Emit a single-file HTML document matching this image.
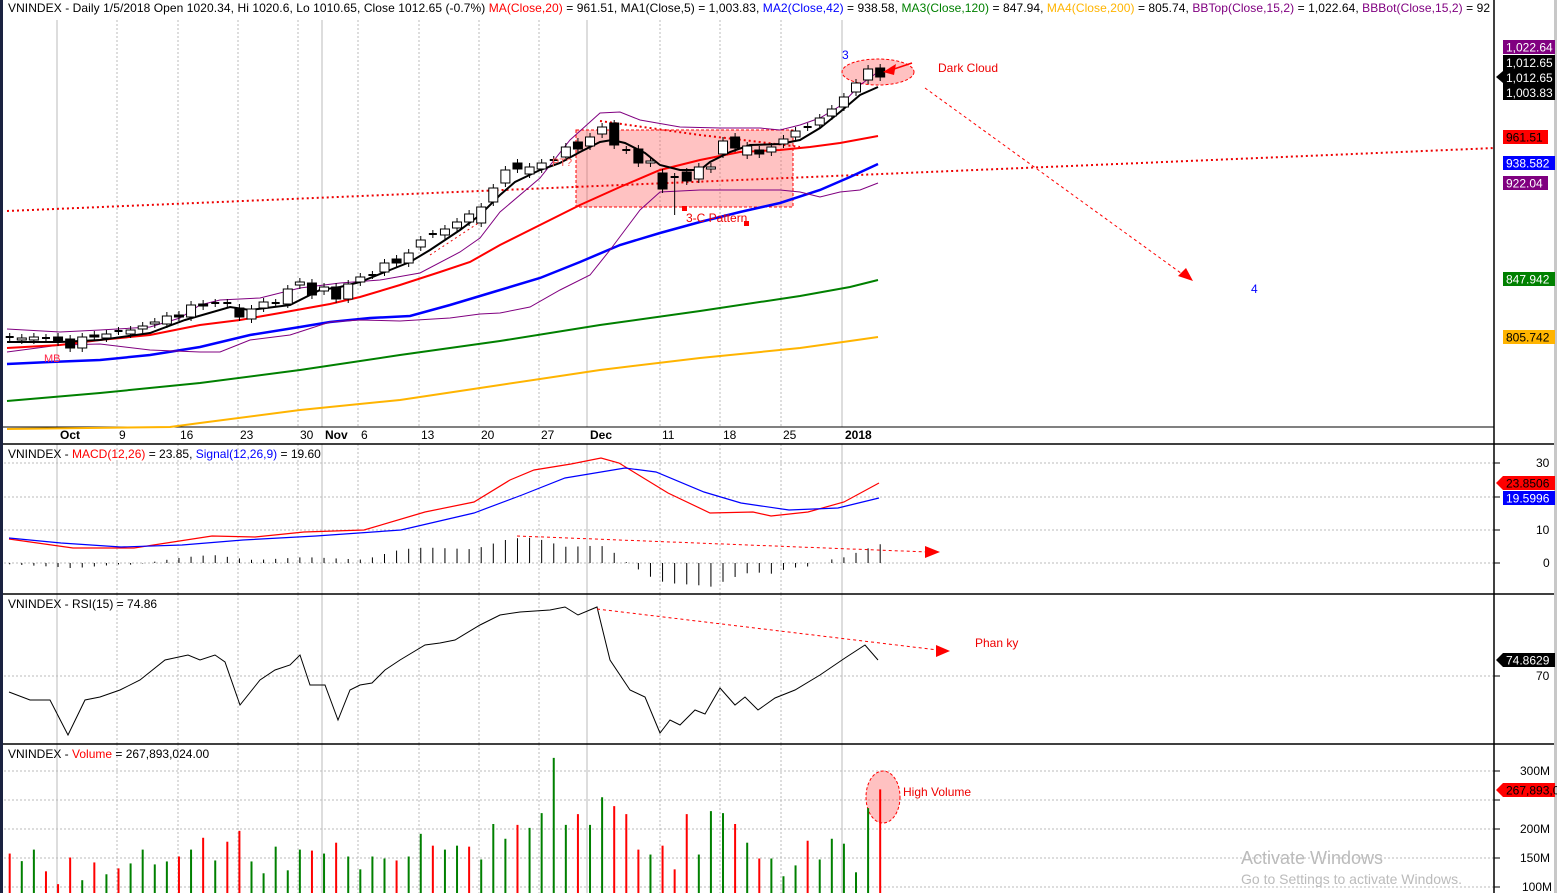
<!DOCTYPE html>
<html><head><meta charset="utf-8"><style>
html,body{margin:0;padding:0;background:#fff;width:1557px;height:893px;overflow:hidden}
svg{display:block;font-family:"Liberation Sans",Arial,sans-serif}
</style></head><body>
<svg id="s" width="1557" height="893" xmlns="http://www.w3.org/2000/svg">
<rect width="1557" height="893" fill="#fff"/>
<g id="g"></g>
</svg>
<script>
var S='';
function pl(pts,c,w,extra){S+='<polyline fill="none" stroke="'+c+'" stroke-width="'+w+'" '+(extra||'')+' points="'+pts.map(p=>p.join(',')).join(' ')+'"/>';}
function ln(x1,y1,x2,y2,c,w,extra){S+='<line x1="'+x1+'" y1="'+y1+'" x2="'+x2+'" y2="'+y2+'" stroke="'+c+'" stroke-width="'+(w||1)+'" '+(extra||'')+'/>';}
function tx(x,y,t,c,sz,extra){S+='<text x="'+x+'" y="'+y+'" fill="'+c+'" font-size="'+(sz||12)+'" '+(extra||'')+'>'+t+'</text>';}
function X(i){return 9.7+12.09*i;}
// vertical grid
var wk=[117,178,238,298,358,419,479,539,660,720,781],mo=[57,322,587,842];
[[20,427],[444,594],[594,744],[744,893]].forEach(function(r){
 wk.forEach(x=>ln(x,r[0],x,r[1],'#bbb',1,'stroke-dasharray="2,2"'));
 mo.forEach(x=>ln(x,r[0],x,r[1],'#bbb',1));
});
// horizontal dotted grids
[463,497,530,563,676,771,800,829,858,887].forEach(y=>ln(4,y,1494,y,'#bbb',1,'stroke-dasharray="2,2"'));
// panel frames
ln(0,427,1494,427,'#000',1);ln(0,444,1557,444,'#000',1.5);ln(0,594,1557,594,'#000',1.5);ln(0,744,1557,744,'#000',1.5);
ln(1494,0,1494,893,'#000',1.5);
S+='<rect x="0" y="0" width="3" height="893" fill="#1a2240"/>';
S+='<rect x="1554" y="0" width="3" height="893" fill="#c8c8c8"/>';
// right tick marks
[463,497,530,563,676,771,800,829,858,887].forEach(y=>ln(1494,y,1500,y,'#000',1));
// date labels
[['Oct',60,1],['9',119],['16',180],['23',240],['30',300],['Nov',325,1],['6',361],['13',421],['20',481],['27',541],['Dec',590,1],['11',662],['18',723],['25',783],['2018',845,1]].forEach(function(d){
 tx(d[1],439,d[0],'#000',12,d[2]?'font-weight="bold"':'');});
// shaded rect & annotations (behind)
S+='<rect x="576" y="130" width="217" height="77" fill="rgba(255,80,80,0.35)" stroke="#f00" stroke-dasharray="3,2"/>';
S+='<ellipse cx="878" cy="72" rx="36" ry="13" fill="rgba(255,100,100,0.4)" stroke="#f00" stroke-dasharray="3,2"/>';
ln(7,211,1495,148,'#e00',2,'stroke-dasharray="2,3"');
pl([[600,121],[650,128],[700,135],[760,142],[800,147]],'#e00',2,'stroke-dasharray="2,3"');
ln(430,255,480,222,'#e00',1,'stroke-dasharray="2,3"');
// MAs
pl([[7,429],[170,427],[200,423],[300,410],[400,400],[500,385],[600,370],[700,358],[800,348],[850,341],[878,337]],'#ffb400',2);
pl([[7,401],[100,393],[200,383],[300,370],[400,355],[500,341],[600,325],[700,311],[800,296],[850,287],[878,280]],'#008000',2);
pl([[7,364],[50,362],[100,360],[150,355],[200,347],[250,335],[300,327],[330,322],[370,318],[410,316],[450,305],[500,290],[540,278],[580,262],[620,245],[660,233],[700,222],[740,212],[780,203],[820,190],[850,177],[878,164]],'#0000ff',2.5);
pl([[7,329],[60,332],[100,330],[150,327],[180,318],[200,305],[220,300],[260,298],[300,288],[340,283],[380,280],[420,273],[460,252],[480,238],[500,212],[540,178],[570,140],[600,113],[620,112],[640,120],[680,127],[720,128],[760,128],[780,130],[800,125],[820,118],[840,106],[860,85],[878,72]],'#800080',1);
pl([[7,352],[60,345],[100,344],[150,350],[200,352],[220,352],[250,340],[290,335],[330,322],[360,320],[400,321],[450,318],[480,314],[500,313],[530,307],[560,290],[590,275],[610,250],[625,230],[640,210],[660,192],[700,190],[740,190],[780,190],[800,192],[820,197],[840,192],[860,190],[878,183]],'#800080',1);
pl([[7,348],[60,345],[100,340],[150,335],[200,325],[240,320],[280,313],[330,304],[360,297],[400,285],[440,272],[470,262],[500,245],[540,225],[580,205],[620,187],[660,170],[700,160],[740,152],[780,150],[810,147],[840,143],[878,136]],'#ff0000',2);
pl([[7,342],[60,342],[100,340],[150,333],[185,320],[230,307],[250,310],[290,305],[320,290],[340,287],[360,282],[390,270],[410,262],[430,250],[460,230],[480,215],[500,195],[515,182],[540,170],[560,163],[580,152],[600,142],[612,140],[625,143],[645,153],[660,165],[680,170],[700,170],[710,162],[730,152],[750,145],[780,144],[800,140],[820,128],[840,112],[860,95],[878,87]],'#000',2);
// candles [top,bottom,type] type: w white, b black, c cross
var C=[[337,337,'c'],[338,340,'w'],[337,340,'w'],[338,338,'c'],[337,342,'b'],[339,348,'b'],[337,348,'w'],[335,337,'b'],[334,338,'w'],[331,331,'c'],
[330,334,'w'],[326,329,'w'],[322,324,'w'],[316,324,'w'],[315,317,'b'],[305,317,'w'],[304,306,'b'],[303,303,'c'],[303,303,'c'],[308,317,'b'],
[309,319,'w'],[302,308,'w'],[303,303,'c'],[289,304,'w'],[282,285,'w'],[283,295,'b'],[287,291,'w'],[287,299,'b'],[284,299,'w'],[277,282,'w'],
[275,275,'c'],[263,272,'w'],[259,263,'b'],[253,263,'w'],[240,247,'w'],[234,234,'c'],[229,235,'w'],[222,228,'w'],[214,222,'w'],[207,223,'w'],
[188,202,'w'],[170,183,'w'],[163,169,'b'],[167,174,'w'],[163,169,'w'],[160,160,'c'],[147,157,'w'],[142,149,'b'],[137,146,'w'],[127,134,'w'],
[123,145,'b'],[150,150,'c'],[149,163,'b'],[161,163,'w'],[173,189,'b'],[177,177,'c'],[172,181,'b'],[167,179,'w'],[167,169,'w'],[141,154,'w'],
[137,148,'b'],[146,155,'w'],[150,154,'b'],[147,152,'w'],[139,144,'w'],[131,137,'w'],[127,127,'c'],[118,125,'w'],[109,116,'w'],[97,107,'w'],
[83,92,'w'],[69,80,'w'],[68,77,'b']];
C.forEach(function(c,i){var x=X(i);var hi=c[0]-4,lo=c[1]+4;if(i==55)lo=215;if(i==50)hi=120;
 ln(x,hi,x,lo,'#000',1);
 if(c[2]=='c'){ln(x-4,c[0],x+4,c[0],'#000',2);}
 else S+='<rect x="'+(x-4.5)+'" y="'+c[0]+'" width="9" height="'+Math.max(2,c[1]-c[0])+'" fill="'+(c[2]=='b'?'#000':'#fff')+'" stroke="#000" stroke-width="1"/>';
});
// annotations top
ln(912,63,888,71,'#f00',1.5);S+='<polygon points="883,72 896,64 894,75" fill="#f00"/>';
tx(938,72,'Dark Cloud','#e00',12);tx(842,59,'3','#00f',12);tx(1251,293,'4','#00f',12);
ln(925,88,1185,276,'#f00',1,'stroke-dasharray="3,3"');S+='<polygon points="1193,281 1178,276 1186,268" fill="#f00"/>';
tx(686,222,'3-C Pattern','#e00',12);S+='<rect x="682" y="206" width="5" height="5" fill="#f00"/><rect x="744" y="221" width="5" height="5" fill="#f00"/>';
tx(44,362,'MB','#f24',11);tx(552,166,'PT?','#f55',11);
// right tags top
function tag(x,y,w,t,bg,fg,arrow){S+='<rect x="'+x+'" y="'+(y-7)+'" width="'+w+'" height="14" fill="'+bg+'"/>';if(arrow)S+='<polygon points="'+(x-7)+','+y+' '+x+','+(y-7)+' '+x+','+(y+7)+'" fill="'+bg+'"/>';tx(x+3,y+4.5,t,fg,12);}
tag(1503,47,52,'1,022.64','#800080','#fff');
S+='<rect x="1503" y="55" width="52" height="45" fill="#000"/><polygon points="1496,77 1503,71 1503,83" fill="#000"/>';
tx(1506,67,'1,012.65','#fff',12);tx(1506,82,'1,012.65','#fff',12);tx(1506,97,'1,003.83','#fff',12);
tag(1503,137,45,'961.51','#f00','#000');tag(1503,163,52,'938.582','#00f','#fff');tag(1503,183,45,'922.04','#800080','#fff');
tag(1503,279,52,'847.942','#008000','#fff');tag(1503,337,52,'805.742','#ffb400','#000');
// header
tx(8,12,'VNINDEX - Daily 1/5/2018 Open 1020.34, Hi 1020.6, Lo 1010.65, Close 1012.65 (-0.7%) <tspan fill="#f00">MA(Close,20)</tspan> = 961.51, MA1(Close,5) = 1,003.83, <tspan fill="#00f">MA2(Close,42)</tspan> = 938.58, <tspan fill="#008000">MA3(Close,120)</tspan> = 847.94, <tspan fill="#ffb400">MA4(Close,200)</tspan> = 805.74, <tspan fill="#800080">BBTop(Close,15,2)</tspan> = 1,022.64, <tspan fill="#800080">BBBot(Close,15,2)</tspan> = 92','#000',12,'textLength="1482"');
// MACD
var R=[[9,539],[73,548],[134,548],[212,536],[255,537],[304,532],[364,530],[425,512],[474,502],[510,480],[534,470],[571,464],[601,458],[619,463],[668,493],[710,513],[753,512],[771,516],[808,512],[844,502],[879,483]];
var B=[[9,538],[61,543],[121,547],[182,545],[243,540],[316,536],[401,530],[474,513],[522,495],[565,478],[625,468],[656,472],[704,492],[741,503],[789,510],[838,508],[879,498]];
function ip(a,x){for(var k=0;k<a.length-1;k++){if(x<=a[k+1][0]){var t=(x-a[k][0])/(a[k+1][0]-a[k][0]);return a[k][1]+t*(a[k+1][1]-a[k][1]);}}return a[a.length-1][1];}
for(var i=0;i<73;i++){var x=X(i);var h=(ip(B,x)-ip(R,x))*1.25;ln(x,563,x,563-h,'#000',1);}
pl(R,'#f00',1.2);pl(B,'#00f',1.2);
ln(517,536,928,552,'#f00',1,'stroke-dasharray="3,3"');S+='<polygon points="940,552 925,546 925,558" fill="#f00"/>';
tx(8,458,'VNINDEX - <tspan fill="#f00">MACD(12,26)</tspan> = 23.85, <tspan fill="#00f">Signal(12,26,9)</tspan> = 19.60','#000',12);
tx(1536,467,'30','#000',12);tx(1536,534,'10','#000',12);tx(1543,567,'0','#000',12);
tag(1503,483,52,'23.8506','#f00','#000',1);tag(1503,498,52,'19.5996','#00f','#fff');
// RSI
pl([[9,692],[30,700],[50,700],[68,735],[85,700],[100,697],[120,690],[140,680],[165,660],[188,655],[200,660],[215,655],[225,662],[240,705],[260,680],[275,670],[290,665],[300,655],[310,685],[325,685],[338,720],[350,690],[360,685],[372,683],[385,670],[400,660],[425,645],[440,643],[455,640],[480,625],[500,615],[520,612],[550,610],[565,607],[578,615],[597,607],[610,660],[630,690],[645,697],[660,733],[670,720],[680,725],[695,710],[705,714],[720,688],[735,705],[745,697],[758,710],[775,698],[795,690],[820,675],[845,658],[865,645],[878,660]],'#000',1);
ln(597,609,938,650,'#f00',1,'stroke-dasharray="3,3"');S+='<polygon points="950,651 936,645 936,657" fill="#f00"/>';
tx(975,647,'Phan ky','#e00',12);
tx(8,608,'VNINDEX - RSI(15) = 74.86','#000',12);
tx(1536,680,'70','#000',12);tag(1503,660,52,'74.8629','#000','#fff',1);
// Volume
var V=[['r',330],['g',353],['g',318],['r',384],['r',423],['r',342],['g',411],['r',357],['g',393],['r',375],['g',360],['g',318],['g',363],['g',354],['r',339],['g',318],['r',282],['g',351],['r',294],['r',261],['g',354],['g',390],['g',309],['g',381],['g',318],['r',321],['g',330],['r',297],['g',339],['g',378],['g',339],['g',345],['r',351],['g',339],['g',270],['r',306],['g',318],['g',306],['r',309],['g',348],['g',240],['g',285],['r',243],['g',252],['g',207],['g',39],['g',243],['r',210],['g',243],['g',159],['r',186],['r',210],['r',318],['g',333],['r',306],['r',378],['r',210],['g',333],['g',201],['g',207],['r',240],['g',297],['r',345],['g',345],['g',399],['g',366],['r',291],['g',348],['g',285],['g',300],['g',387],['g',192],['r',135]];
S+='<ellipse cx="883" cy="797" rx="17" ry="26" fill="rgba(255,100,100,0.4)" stroke="#f00" stroke-dasharray="3,2"/>';
V.forEach(function(v,i){ln(X(i),745+v[1]/3.04,X(i),893,v[0]=='r'?'#f00':'#008000',2);});
tx(903,796,'High Volume','#e00',12);
tx(8,758,'VNINDEX - <tspan fill="#f00">Volume</tspan> = 267,893,024.00','#000',12);
tx(1520,775,'300M','#000',12);tx(1520,833,'200M','#000',12);tx(1520,862,'150M','#000',12);tx(1522,891,'100M','#000',12);
tag(1503,790,52,'267,893,0','#f00','#000',1);
tx(1241,864,'Activate Windows','#bbb',18);tx(1241,884,'Go to Settings to activate Windows.','#bbb',14);
document.getElementById('g').innerHTML=S;
</script>
</body></html>
